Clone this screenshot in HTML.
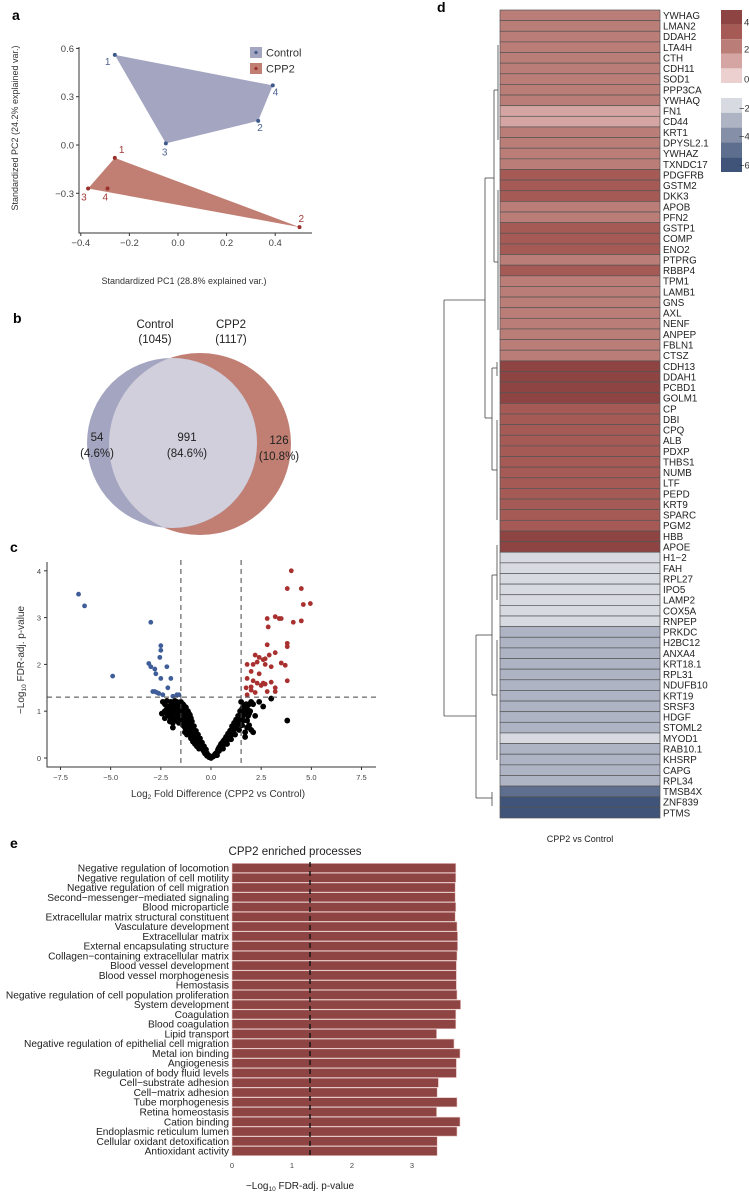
<!DOCTYPE html>
<html><head><meta charset="utf-8"><style>
body{margin:0;background:#fff;}
svg{display:block;font-family:"Liberation Sans",Arial,sans-serif;}
</style></head><body>
<svg id="fig" width="749" height="1195" viewBox="0 0 749 1195" xmlns="http://www.w3.org/2000/svg">
<rect width="749" height="1195" fill="#fff"/>
<g id="pa"></g>
<g id="pb"></g>
<g id="pc"></g>
<g id="pd"></g>
<g id="pe"></g>
</svg>
<script>
// ---------- Panel a data ----------
const pcaCtrlX=[-0.26,0.33,-0.05,0.39];
const pcaCtrlY=[0.56,0.15,0.01,0.37];
const pcaCppX=[-0.26,0.50,-0.37,-0.29];
const pcaCppY=[-0.08,-0.51,-0.27,-0.27];
const pcaXTicks=[-0.4,-0.2,0.0,0.2,0.4];
const pcaYTicks=[0.6,0.3,0.0,-0.3];
// ---------- Panel c data ----------
const upX=[4.0,3.8,4.5,4.6,4.95,2.8,3.2,3.4,3.5,4.1,4.5,2.85,3.8,3.8,2.8,3.2,2.2,2.4,2.6,2.7,2.9,1.8,2.1,2.3,2.7,3.0,3.5,3.7,2.0,2.4,1.8,2.1,2.3,2.5,2.7,3.0,3.2,3.8,1.75,2.0,2.2,2.8,3.2,1.8,2.0,2.6];
const upY=[4.0,3.62,3.62,3.28,3.3,2.98,3.02,2.98,2.98,2.9,2.93,2.8,2.45,2.38,2.42,2.25,2.2,2.15,2.1,2.12,2.2,2.0,2.0,2.05,2.0,1.95,2.03,1.98,1.85,1.8,1.7,1.65,1.6,1.55,1.58,1.62,1.5,1.65,1.5,1.45,1.4,1.42,1.42,1.35,1.52,1.6];
const downX=[-6.6,-6.3,-4.9,-3.0,-3.1,-3.0,-2.8,-2.75,-2.5,-2.5,-2.55,-2.5,-2.2,-2.0,-2.15,-2.9,-2.8,-2.6,-2.4,-1.9,-1.7,-1.6,-2.7];
const downY=[3.5,3.25,1.75,2.9,2.02,1.95,1.9,1.8,2.4,2.3,2.15,1.7,1.95,1.7,1.5,1.42,1.42,1.38,1.35,1.32,1.35,1.35,1.4];
const nsX=[-2.4,-2.3,-2.2,-2.1,-2.0,-1.9,-1.8,-1.7,-1.6,-1.5,-2.3,-2.2,-2.1,-2.0,-1.9,-1.8,-1.7,-1.6,-1.5,-2.3,-1.9,-1.8,-1.7,-1.6,-1.5,-1.4,-1.3,-1.4,-1.3,-1.2,-1.5,-1.4,-1.3,-1.2,-1.1,-1.6,-1.4,-1.3,-1.2,-1.1,-1.0,-0.9,-1.0,-1.1,-1.2,-0.9,-0.8,-0.7,-1.0,-0.8,-0.7,-0.6,-0.6,-0.5,-0.9,-0.5,-0.4,-0.4,-0.3,-0.3,-0.2,-0.2,-0.1,-0.1,0,-0.6,-0.7,-0.8,-1.3,-1.7,-1.9,-2.0,-1.1,-1.2,-1.0,
0.1,0.2,0.3,0.4,0.5,0.6,0.7,0.8,0.9,1.0,1.1,1.2,1.3,1.4,1.5,0.4,0.5,0.6,0.7,0.8,0.9,1.0,1.1,1.2,1.3,1.4,1.5,1.6,0.3,0.6,0.8,1.0,1.2,1.4,1.6,1.7,1.8,1.6,1.5,1.9,2.0,1.8,1.9,2.0,2.1,1.8,1.7,2.2,2.4,2.6,3.0,3.8,1.7,1.9,2.1,1.55,
-2.2,-2.0,-1.8,-1.6,-1.45,-1.35,-1.25,-1.15,-1.05,-0.95,-0.85,-0.75,-0.65,-0.55,-0.45,-0.35,-0.25,-0.15,-1.55,-1.45,-1.35,-1.25,-1.15,-1.05,-0.95,-0.85,-0.75,-0.65,-0.55,-0.45,-0.35,-0.25,-1.75,-1.65,-2.45,-2.05,-1.9,
0.15,0.25,0.35,0.45,0.55,0.65,0.75,0.85,0.95,1.05,1.15,1.25,1.35,1.45,1.55,1.65,1.75,1.85,1.95];
const nsY=[1.2,1.15,1.22,1.1,1.2,1.18,1.22,1.2,1.15,1.2,1.0,0.95,0.9,1.0,1.05,1.0,1.1,1.05,1.08,0.85,0.9,0.85,0.95,0.9,0.95,1.0,1.05,1.15,0.95,0.9,0.8,0.85,0.8,0.75,0.8,0.75,0.7,0.65,0.6,0.65,0.7,0.6,0.55,0.5,0.5,0.45,0.5,0.45,0.42,0.38,0.35,0.4,0.3,0.3,0.35,0.22,0.25,0.18,0.15,0.1,0.1,0.05,0.05,0.02,0,0.2,0.25,0.3,0.55,0.8,0.75,0.85,0.95,1.0,0.85,
0.03,0.08,0.12,0.15,0.2,0.28,0.3,0.38,0.42,0.5,0.55,0.62,0.7,0.78,0.85,0.22,0.3,0.35,0.4,0.45,0.5,0.6,0.65,0.7,0.8,0.88,0.95,0.9,0.06,0.2,0.3,0.4,0.5,0.6,0.8,1.0,1.05,1.1,1.2,1.15,1.2,0.8,0.7,0.6,0.55,0.65,0.45,0.9,1.2,1.1,1.27,0.8,0.55,0.95,1.15,0.7,
1.05,1.1,1.12,0.98,0.9,0.88,0.82,0.72,0.62,0.52,0.44,0.4,0.33,0.27,0.2,0.14,0.08,0.04,1.12,1.05,1.12,1.08,1.0,0.92,0.78,0.68,0.58,0.5,0.42,0.33,0.25,0.18,0.92,0.85,0.95,0.78,0.65,
0.05,0.1,0.18,0.25,0.32,0.38,0.45,0.52,0.58,0.68,0.75,0.82,0.9,1.0,1.05,0.95,1.15,0.9,1.0];
const volXTicks=[-7.5,-5.0,-2.5,0.0,2.5,5.0,7.5];
const volYTicks=[0,1,2,3,4];
// ---------- Panel d data ----------
const genes=["YWHAG","LMAN2","DDAH2","LTA4H","CTH","CDH11","SOD1","PPP3CA","YWHAQ","FN1","CD44","KRT1","DPYSL2.1","YWHAZ","TXNDC17","PDGFRB","GSTM2","DKK3","APOB","PFN2","GSTP1","COMP","ENO2","PTPRG","RBBP4","TPM1","LAMB1","GNS","AXL","NENF","ANPEP","FBLN1","CTSZ","CDH13","DDAH1","PCBD1","GOLM1","CP","DBI","CPQ","ALB","PDXP","THBS1","NUMB","LTF","PEPD","KRT9","SPARC","PGM2","HBB","APOE","H1\u22122","FAH","RPL27","IPO5","LAMP2","COX5A","RNPEP","PRKDC","H2BC12","ANXA4","KRT18.1","RPL31","NDUFB10","KRT19","SRSF3","HDGF","STOML2","MYOD1","RAB10.1","KHSRP","CAPG","RPL34","TMSB4X","ZNF839","PTMS"];
const logFC=[2.2,2.2,2.2,2.2,2.2,2.2,2.2,2.2,2.2,1.2,1.2,2.2,2.2,2.2,2.2,3.2,3.2,3.2,2.2,2.2,3.2,3.2,3.2,2.2,3.2,2.2,2.2,2.2,2.2,2.2,2.2,2.2,2.2,4.3,4.3,4.3,4.3,3.2,3.2,3.2,3.2,3.2,3.2,3.2,3.2,3.2,3.2,3.2,3.2,4.3,4.3,-1.6,-1.6,-1.6,-1.6,-1.6,-1.6,-1.6,-2.8,-2.8,-2.8,-2.8,-2.8,-2.8,-2.8,-2.8,-2.8,-2.8,-1.6,-2.8,-2.8,-2.8,-2.8,-4.8,-5.8,-5.8];
const legendTicks=[4,2,0,-2,-4,-6];
// ---------- Panel e data ----------
const terms=["Negative regulation of locomotion","Negative regulation of cell motility","Negative regulation of cell migration","Second\u2212messenger\u2212mediated signaling","Blood microparticle","Extracellular matrix structural constituent","Vasculature development","Extracellular matrix","External encapsulating structure","Collagen\u2212containing extracellular matrix","Blood vessel development","Blood vessel morphogenesis","Hemostasis","Negative regulation of cell population proliferation","System development","Coagulation","Blood coagulation","Lipid transport","Negative regulation of epithelial cell migration","Metal ion binding","Angiogenesis","Regulation of body fluid levels","Cell\u2212substrate adhesion","Cell\u2212matrix adhesion","Tube morphogenesis","Retina homeostasis","Cation binding","Endoplasmic reticulum lumen","Cellular oxidant detoxification","Antioxidant activity"];
const enrichVals=[3.73,3.73,3.72,3.72,3.73,3.72,3.75,3.76,3.76,3.75,3.74,3.74,3.74,3.75,3.81,3.73,3.73,3.41,3.70,3.80,3.74,3.74,3.44,3.42,3.75,3.41,3.80,3.75,3.42,3.42];
const enrichTicks=[0,1,2,3];
const cutoff=1.3;

const NS="http://www.w3.org/2000/svg";
function mk(parent,tag,attrs,text){const e=document.createElementNS(NS,tag);for(const k in attrs)e.setAttribute(k,attrs[k]);if(text!==undefined)e.textContent=text;parent.appendChild(e);return e;}

// ---------- Panel a ----------
(function(){
const g=document.getElementById('pa');
const ax=v=>178+v*243, ay=v=>145-v*161;
let t=mk(g,'text',{x:12,y:20,'font-size':14,'font-weight':'bold'},'a');

let p=mk(g,'polygon',{points:[0,3,1,2].map(i=>ax(pcaCtrlX[i])+','+ay(pcaCtrlY[i])).join(' '),fill:'#a4a6c1'});

p=mk(g,'polygon',{points:[0,1,2].map(i=>ax(pcaCppX[i])+','+ay(pcaCppY[i])).join(' '),fill:'#c17f73'});

const cOff=[[-7,10],[2,10],[-1,12],[3,10]], rOff=[[7,-5],[2,-5],[-4,12],[-2,12]];
pcaCtrlX.forEach((x,i)=>{const c=mk(g,'circle',{cx:ax(x),cy:ay(pcaCtrlY[i]),r:2,fill:'#3e5a8c'});

const l=mk(g,'text',{x:ax(x)+cOff[i][0]-3,y:ay(pcaCtrlY[i])+cOff[i][1],'font-size':10,fill:'#4d6290'},String(i+1));
});
pcaCppX.forEach((x,i)=>{const c=mk(g,'circle',{cx:ax(x),cy:ay(pcaCppY[i]),r:2,fill:'#9b2f2c'});

const l=mk(g,'text',{x:ax(x)+rOff[i][0]-3,y:ay(pcaCppY[i])+rOff[i][1],'font-size':10,fill:'#a23a36'},String(i+1));
});
let a=mk(g,'path',{d:'M79,47V233H312',stroke:'#333',fill:'none','stroke-width':1});

pcaXTicks.forEach(v=>{mk(g,'line',{x1:ax(v),x2:ax(v),y1:233,y2:236,stroke:'#333'});
const l=mk(g,'text',{x:ax(v),y:246,'font-size':9.5,'text-anchor':'middle',fill:'#444'},(v<0?'\u2212':'')+Math.abs(v).toFixed(1));
});
pcaYTicks.forEach(v=>{mk(g,'line',{x1:76,x2:79,y1:ay(v),y2:ay(v),stroke:'#333'});
const l=mk(g,'text',{x:74,y:ay(v)+3.5,'font-size':9.5,'text-anchor':'end',fill:'#444'},(v<0?'\u2212':'')+Math.abs(v).toFixed(1));
});
t=mk(g,'text',{x:184,y:284,'font-size':9,'text-anchor':'middle',fill:'#333'},'Standardized PC1 (28.8% explained var.)');

t=mk(g,'text',{x:0,y:0,'font-size':9,'text-anchor':'middle',fill:'#333',transform:'translate(18,128) rotate(-90)'},'Standardized PC2 (24.2% explained var.)');

[['Control','#a4a6c1','#3e5a8c',47],['CPP2','#c17f73','#9b2f2c',63]].forEach(d=>{
const r=mk(g,'rect',{x:250,y:d[3],width:12,height:11,fill:d[1]});
mk(g,'circle',{cx:256,cy:d[3]+5.5,r:1.6,fill:d[2]});
const l=mk(g,'text',{x:266,y:d[3]+9.5,'font-size':11,fill:'#333'},d[0]);});
})();

// ---------- Panel b ----------
(function(){
const g=document.getElementById('pb');
let t=mk(g,'text',{x:13,y:323,'font-size':14,'font-weight':'bold'},'b');
mk(g,'defs',{}).innerHTML='<clipPath id="cc"><circle cx="172" cy="443" r="85"/></clipPath>';
let c=mk(g,'circle',{cx:200,cy:444,r:91,fill:'#c17f73'});
c=mk(g,'circle',{cx:172,cy:443,r:85,fill:'#a4a6c1'});
c=mk(g,'circle',{cx:200,cy:444,r:91,fill:'#d2cfdc','clip-path':'url(#cc)'});
[['Control',155,328],['(1045)',155,343],['CPP2',231,328],['(1117)',231,343],['54',97,441],['(4.6%)',97,457],['991',187,441],['(84.6%)',187,457],['126',279,444],['(10.8%)',279,460]].forEach(d=>{
const l=mk(g,'text',{x:d[1],y:d[2],'font-size':11.5,'text-anchor':'middle',fill:'#222'},d[0]);});
})();

// ---------- Panel c ----------
(function(){
const g=document.getElementById('pc');
const vx=v=>211+v*20.07, vy=v=>758-v*46.8;
let t=mk(g,'text',{x:10,y:552,'font-size':14,'font-weight':'bold'},'c');
nsX.forEach((x,i)=>{const c=mk(g,'circle',{cx:vx(x),cy:vy(nsY[i]),r:2.9,fill:'#000'});});
downX.forEach((x,i)=>{const c=mk(g,'circle',{cx:vx(x),cy:vy(downY[i]),r:2.4,fill:'#3e5d99'});});
upX.forEach((x,i)=>{const c=mk(g,'circle',{cx:vx(x),cy:vy(upY[i]),r:2.4,fill:'#a8302f'});});
[-1.5,1.5].forEach(v=>{const l=mk(g,'line',{x1:vx(v),x2:vx(v),y1:560,y2:767,stroke:'#444','stroke-dasharray':'5,4'});});
let l=mk(g,'line',{x1:47,x2:376,y1:vy(1.3),y2:vy(1.3),stroke:'#444','stroke-dasharray':'5,4'});
let a=mk(g,'path',{d:'M47,562V767H376',stroke:'#333',fill:'none'});
volXTicks.forEach(v=>{mk(g,'line',{x1:vx(v),x2:vx(v),y1:767,y2:770,stroke:'#333'});
const e=mk(g,'text',{x:vx(v),y:780,'font-size':7.5,'text-anchor':'middle',fill:'#444'},(v<0?'\u2212':'')+Math.abs(v).toFixed(1));});
volYTicks.forEach(v=>{mk(g,'line',{x1:44,x2:47,y1:vy(v),y2:vy(v),stroke:'#333'});
const e=mk(g,'text',{x:41,y:vy(v)+3,'font-size':7.5,'text-anchor':'end',fill:'#444'},String(v));});
t=mk(g,'text',{x:218,y:797,'font-size':10,'text-anchor':'middle',fill:'#333'});t.innerHTML='Log<tspan font-size="6.5" dy="2">2</tspan><tspan dy="-2"> Fold Difference (CPP2 vs Control)</tspan>';

t=mk(g,'text',{x:0,y:0,'font-size':10,'text-anchor':'middle',fill:'#333',transform:'translate(24,660) rotate(-90)'});t.innerHTML='\u2212Log<tspan font-size="6.5" dy="2">10</tspan><tspan dy="-2"> FDR-adj. p-value</tspan>';

})();

// ---------- Panel d ----------
(function(){
const g=document.getElementById('pd');
let t=mk(g,'text',{x:437,y:12,'font-size':14,'font-weight':'bold'},'d');
const top=10,bot=818,rh=(bot-top)/genes.length;
const redC=['#ecd0cf','#d4a5a2','#bb7d78','#a65a55','#8e4443'];
const blueC=['#d7dae1','#aeb4c3','#8590a8','#5e6e8f','#3f5478'];
function col(v){if(v>=0){return redC[Math.min(4,Math.floor(v))];}return blueC[Math.min(4,Math.floor(-v-1))];}
genes.forEach((gn,i)=>{
const r=mk(g,'rect',{x:500,y:top+i*rh,width:160,height:rh,fill:col(logFC[i]),stroke:'#555','stroke-width':0.7});

const l=mk(g,'text',{x:663,y:top+i*rh+rh/2+3.6,'font-size':9.8,fill:'#222'},gn);
});
const segs=[
'M444,300V716','M444,300H485','M444,716H476',
'M485,178V418','M485,178H494','M485,418H492',
'M494,90V262','M494,90H498','M494,262H498','M498,45V140','M498,190V330','M492,368V470','M492,368H497','M492,470H497','M497,362V376','M497,420V520',
'M476,635V798','M476,635H492','M476,798H492','M492,575V695','M492,792V806','M492,575H497','M492,695H497','M497,545V600','M497,640V760'];
segs.forEach(d=>{const p=mk(g,'path',{d:d,stroke:'#444',fill:'none','stroke-width':0.8});});
redC.slice().reverse().forEach((c,i)=>{const r=mk(g,'rect',{x:721,y:10+i*14.6,width:21,height:14.6,fill:c});});
blueC.forEach((c,i)=>{const r=mk(g,'rect',{x:721,y:98+i*14.8,width:21,height:14.8,fill:c});});
const lyPos={4:22,2:49,0:79,'-2':108,'-4':136,'-6':165};
legendTicks.forEach(v=>{const l=mk(g,'text',{x:v<0?739:744,y:lyPos[v]+3.5,'font-size':9.5,fill:'#333'},(v<0?'\u2212':'')+Math.abs(v));});
t=mk(g,'text',{x:580,y:842,'font-size':9,'text-anchor':'middle',fill:'#222'},'CPP2 vs Control');
})();

// ---------- Panel e ----------
(function(){
const g=document.getElementById('pe');
const ex=v=>232+v*60, step=9.76, y0=868;
let t=mk(g,'text',{x:10,y:848,'font-size':14,'font-weight':'bold'},'e');
t=mk(g,'text',{x:295,y:855,'font-size':11.5,'text-anchor':'middle',fill:'#222'},'CPP2 enriched processes');
terms.forEach((tm,i)=>{const cy=y0+i*step;
const r=mk(g,'rect',{x:ex(0),y:cy-4.6,width:ex(enrichVals[i])-ex(0),height:9.2,fill:'#8e4443',stroke:'#e8c8c6','stroke-width':0.6});

const l=mk(g,'text',{x:229,y:cy+3.5,'font-size':10.2,'text-anchor':'end',fill:'#222'},tm);
});
let l=mk(g,'line',{x1:ex(cutoff),x2:ex(cutoff),y1:862,y2:1157,stroke:'#111','stroke-width':1.4,'stroke-dasharray':'5,4'});

enrichTicks.forEach(v=>{const e=mk(g,'text',{x:ex(v),y:1168,'font-size':7.5,'text-anchor':'middle',fill:'#444'},String(v));});
t=mk(g,'text',{x:300,y:1189,'font-size':10,'text-anchor':'middle',fill:'#222'});t.innerHTML='\u2212Log<tspan font-size="6.5" dy="2">10</tspan><tspan dy="-2"> FDR-adj. p-value</tspan>';

})();
</script>
</body></html>
